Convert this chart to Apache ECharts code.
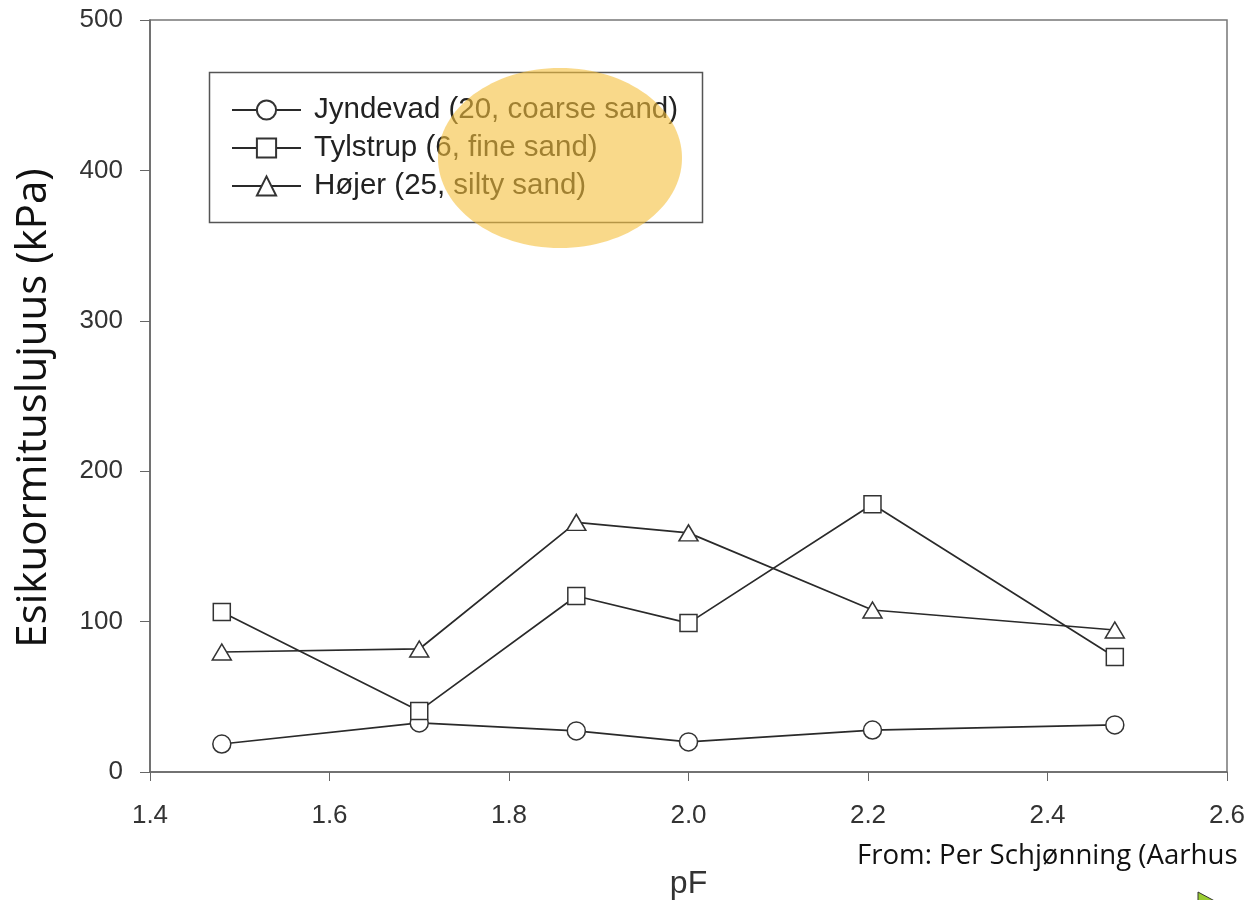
<!DOCTYPE html>
<html>
<head>
<meta charset="utf-8">
<script src="https://cdn.jsdelivr.net/npm/echarts@6/dist/echarts.min.js"></script>
<style>html,body{margin:0;padding:0;background:#fff}#c{width:1251px;height:900px}</style>
</head>
<body>
<div id="c"></div>
<script>
const pF = [1.48, 1.70, 1.875, 2.0, 2.205, 2.475];
const jyndevad = [18.6, 32.6, 27.3, 20, 27.9, 31.3];
const tylstrup = [106.4, 40.6, 117, 99, 178, 76.5];
const hojer = [79.8, 81.8, 166, 159, 107.7, 94.4];
const seriesNames = ['Jyndevad (20, coarse sand)', 'Tylstrup (6, fine sand)', 'Højer (25, silty sand)'];
const yTicks = [0, 100, 200, 300, 400, 500];

const pair = (xs, ys) => xs.map((x, i) => [x, ys[i]]);
const lineStyle = { color: '#2a2a2a', width: 1.7 };
const itemStyle = { color: '#fff', borderColor: '#333', borderWidth: 1.5 };

const chart = echarts.init(document.getElementById('c'));
chart.setOption({
  backgroundColor: '#fff',
  animation: false,
  textStyle: { fontFamily: 'Liberation Sans, Arial, sans-serif' },
  grid: { left: 150, right: 24, top: 20, bottom: 128, containLabel: false, outerBoundsMode: 'none', show: true, borderColor: '#777', borderWidth: 1.5, backgroundColor: 'transparent' },
  xAxis: {
    type: 'value', min: 1.4, max: 2.6, interval: 0.2,
    name: 'pF', nameLocation: 'middle', nameGap: 96,
    nameTextStyle: { fontSize: 32, color: '#333' },
    axisLine: { lineStyle: { color: '#666', width: 1.5 } },
    axisTick: { inside: false, length: 9, lineStyle: { color: '#666' } },
    axisLabel: { fontSize: 26, color: '#333', margin: 31, formatter: v => v.toFixed(1) },
    splitLine: { show: false }
  },
  yAxis: {
    type: 'value', min: yTicks[0], max: yTicks[yTicks.length - 1], interval: 100,
    name: 'Esikuormituslujuus (kPa)', nameLocation: 'middle', nameGap: 95,
    nameTextStyle: { fontSize: 42, color: '#111', fontFamily: 'Open Sans, sans-serif', padding: [0, 24, 0, 0] },
    axisLine: { show: true, lineStyle: { color: '#666', width: 1.5 } },
    axisTick: { show: true, inside: false, length: 10, lineStyle: { color: '#666' } },
    axisLabel: { fontSize: 26, color: '#333', margin: 27 },
    splitLine: { show: false }
  },
  legend: {
    left: 226, top: 90, orient: 'vertical', itemGap: 8,
    itemWidth: 69, itemHeight: 24,
    textStyle: { fontSize: 29.5, color: '#222', padding: [0, 0, 0, 8] },
    data: seriesNames
  },
  series: [
    { name: seriesNames[0], type: 'line', data: pair(pF, jyndevad), symbol: 'circle', symbolSize: 18, lineStyle, itemStyle, z: 3 },
    { name: seriesNames[1], type: 'line', data: pair(pF, tylstrup), symbol: 'rect', symbolSize: 17, lineStyle, itemStyle, z: 4 },
    { name: seriesNames[2], type: 'line', data: pair(pF, hojer), symbol: 'triangle', symbolSize: [19, 16], lineStyle, itemStyle, z: 3 }
  ],
  graphic: [
    { type: 'rect', left: 207, top: 70, shape: { width: 493, height: 150 }, style: { fill: 'none', stroke: '#555', lineWidth: 1.5 }, z: 1 },
    { type: 'ellipse', shape: { cx: 560, cy: 158, rx: 122, ry: 90 }, style: { fill: 'rgba(245,192,60,0.6)' }, z: 100 },
    { type: 'text', left: 857, top: 842, style: { text: 'From: Per Schjønning (Aarhus', fontSize: 27.6, fontFamily: 'Open Sans, sans-serif', fill: '#111' }, z: 100 },
    { type: 'polygon', shape: { points: [[1198, 892], [1224, 906], [1198, 906]] }, style: { fill: '#9acd32', stroke: '#333', lineWidth: 1 }, z: 100 }
  ]
});
</script>
</body>
</html>
